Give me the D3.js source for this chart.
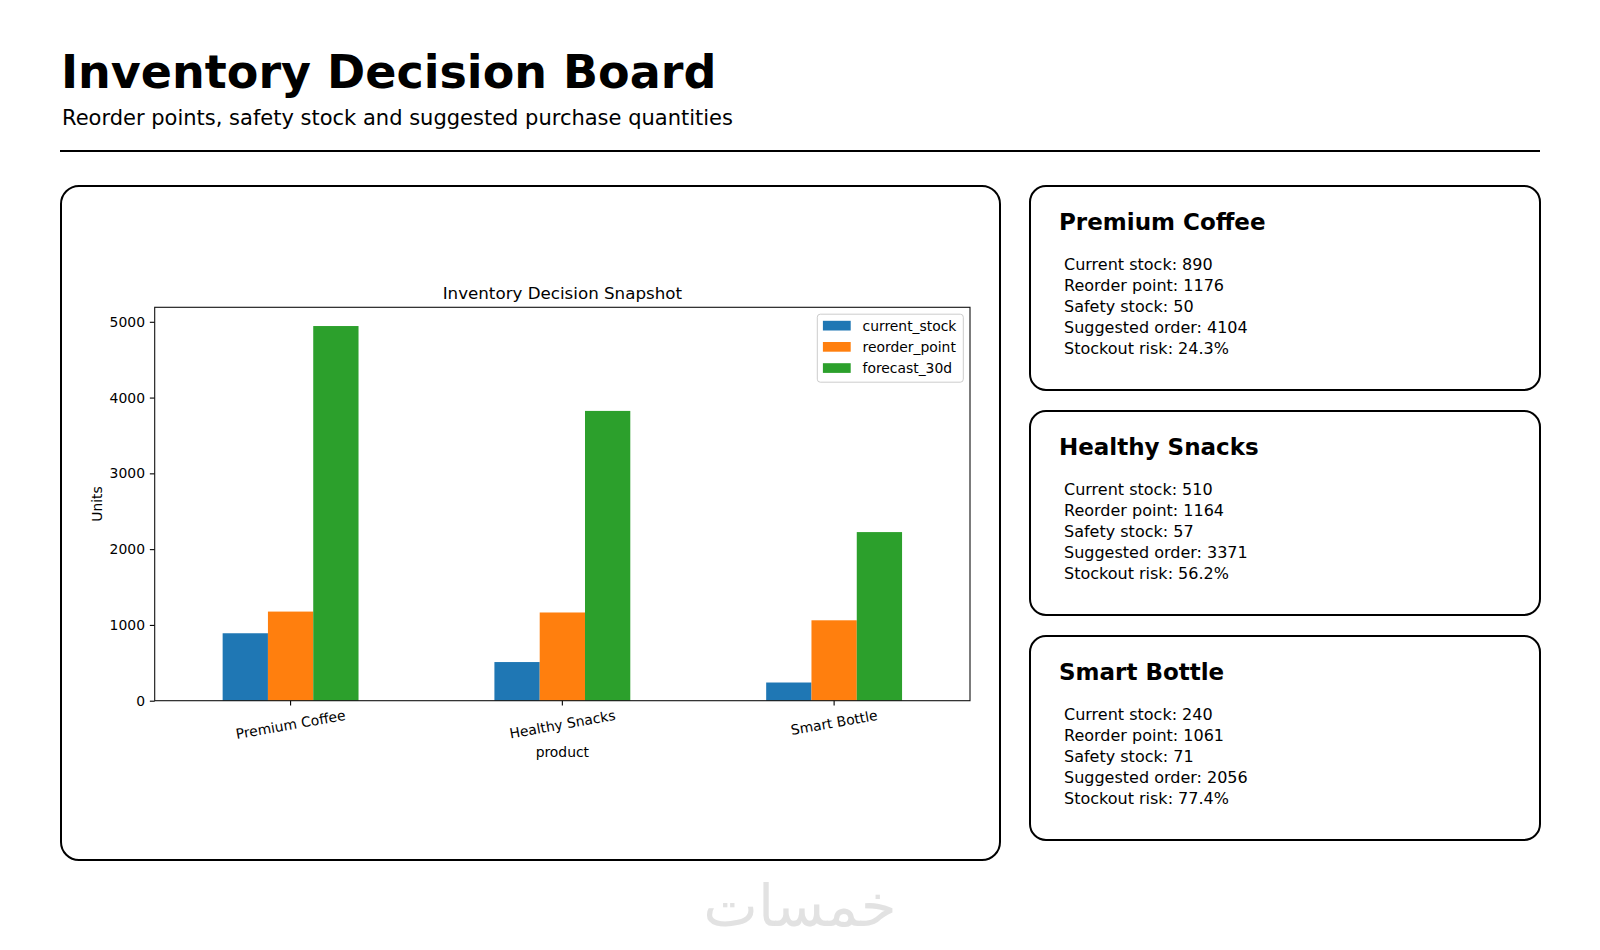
<!DOCTYPE html>
<html>
<head>
<meta charset="utf-8">
<script src="https://cdn.jsdelivr.net/npm/d3@7"></script>
<style>
  html, body { margin: 0; padding: 0; background: #fff; }
  svg { display: block; font-family: "DejaVu Sans", sans-serif; }
</style>
</head>
<body>
<svg id="chart" width="1600" height="950"></svg>
<script>
// ---------- data ----------
const products = ["Premium Coffee", "Healthy Snacks", "Smart Bottle"];
const seriesKeys = ["current_stock", "reorder_point", "forecast_30d"];
const currentStock = [890, 510, 240];
const reorderPoint = [1176, 1164, 1061];
const forecast30d = [4944, 3824, 2225];
const safetyStock = [50, 57, 71];
const suggestedOrder = [4104, 3371, 2056];
const stockoutRisk = [24.3, 56.2, 77.4];
const yTicks = [0, 1000, 2000, 3000, 4000, 5000];
const seriesColors = ["#1f77b4", "#ff7f0e", "#2ca02c"];

const pageTitle = "Inventory Decision Board";
const pageSubtitle = "Reorder points, safety stock and suggested purchase quantities";
const chartTitle = "Inventory Decision Snapshot";
const xLabel = "product";
const yLabel = "Units";
const watermark = "خمسات";

const seriesValues = [currentStock, reorderPoint, forecast30d];

// ---------- page ----------
const svg = d3.select("#chart");

svg.append("text").attr("x", 61).attr("y", 87.5)
  .attr("font-size", 46).attr("font-weight", "bold").attr("fill", "#000")
  .text(pageTitle);
svg.append("text").attr("x", 62).attr("y", 124.5)
  .attr("font-size", 21).attr("fill", "#000")
  .text(pageSubtitle);
svg.append("line").attr("x1", 60).attr("x2", 1540).attr("y1", 151).attr("y2", 151)
  .attr("stroke", "#000").attr("stroke-width", 2);

// chart panel
svg.append("rect").attr("x", 61).attr("y", 186).attr("width", 939).attr("height", 674)
  .attr("rx", 18).attr("ry", 18).attr("fill", "#fff").attr("stroke", "#000").attr("stroke-width", 2);

// ---------- plot ----------
const plot = { left: 154.7, right: 970, top: 307.3, bottom: 700.7 };
const fs = 13.9;
const ymax = d3.max(seriesValues.flat()) * 1.05;

const x0 = d3.scaleBand().domain(products).range([plot.left, plot.right])
  .paddingInner(0.5).paddingOuter(0.25);
const x1 = d3.scaleBand().domain(seriesKeys).range([0, x0.bandwidth()]).padding(0);
const y = d3.scaleLinear().domain([0, ymax]).range([plot.bottom, plot.top]);

const g = svg.append("g");

// bars
const groups = g.selectAll("g.grp").data(products).join("g")
  .attr("class", "grp")
  .attr("transform", d => `translate(${x0(d)},0)`);
groups.selectAll("rect").data((d, i) => seriesKeys.map((k, j) => ({ key: k, value: seriesValues[j][i], j })))
  .join("rect")
  .attr("x", d => x1(d.key))
  .attr("width", x1.bandwidth())
  .attr("y", d => y(d.value))
  .attr("height", d => y(0) - y(d.value))
  .attr("fill", d => seriesColors[d.j]);

// axes
const yAxis = d3.axisLeft(y).tickValues(yTicks).tickSize(4.86).tickPadding(4.86).tickFormat(d3.format("d"));
const ya = g.append("g").attr("transform", `translate(${plot.left},0)`).call(yAxis);
ya.select(".domain").remove();
ya.selectAll(".tick line").attr("stroke", "#000").attr("stroke-width", 1.1);
ya.selectAll(".tick text").attr("font-size", fs).attr("fill", "#000")
  .attr("font-family", "DejaVu Sans");

const xAxis = d3.axisBottom(x0).tickSize(4.86).tickPadding(0).tickFormat("");
const xa = g.append("g").attr("transform", `translate(0,${plot.bottom})`).call(xAxis);
xa.select(".domain").remove();
xa.selectAll(".tick line").attr("stroke", "#000").attr("stroke-width", 1.1);

// rotated x tick labels (10 degrees)
const rot = 10 * Math.PI / 180;
products.forEach(p => {
  const t = g.append("text").attr("font-size", fs).attr("fill", "#000")
    .attr("text-anchor", "middle").attr("dominant-baseline", "central").text(p);
  const w = t.node().getComputedTextLength();
  const h = fs * 1.17;
  const cy = plot.bottom + 6.2 + (w * Math.sin(rot) + h * Math.cos(rot)) / 2;
  const cx = x0(p) + x0.bandwidth() / 2;
  t.attr("transform", `translate(${cx},${cy}) rotate(-10)`);
});

// spines
g.append("rect").attr("x", plot.left).attr("y", plot.top)
  .attr("width", plot.right - plot.left).attr("height", plot.bottom - plot.top)
  .attr("fill", "none").attr("stroke", "#111").attr("stroke-width", 1.1);

// titles / labels
g.append("text").attr("x", (plot.left + plot.right) / 2).attr("y", 299.3)
  .attr("text-anchor", "middle").attr("font-size", 16.7).attr("fill", "#000").text(chartTitle);
g.append("text").attr("x", (plot.left + plot.right) / 2).attr("y", 756.5)
  .attr("text-anchor", "middle").attr("font-size", fs).attr("fill", "#000").text(xLabel);
g.append("text").attr("transform", `translate(97,${(plot.top + plot.bottom) / 2}) rotate(-90)`)
  .attr("text-anchor", "middle").attr("dominant-baseline", "central")
  .attr("font-size", fs).attr("fill", "#000").text(yLabel);

// legend
const lg = g.append("g");
lg.append("rect").attr("x", 817.3).attr("y", 314.2).attr("width", 146).attr("height", 68)
  .attr("rx", 3).attr("fill", "#fff").attr("fill-opacity", 0.8)
  .attr("stroke", "#cccccc").attr("stroke-width", 1);
seriesKeys.forEach((k, j) => {
  const cy = 325.7 + j * 21.2;
  lg.append("rect").attr("x", 822.9).attr("y", cy - 4.9).attr("width", 27.8).attr("height", 9.7)
    .attr("fill", seriesColors[j]);
  lg.append("text").attr("x", 862.5).attr("y", cy).attr("dominant-baseline", "central")
    .attr("font-size", fs).attr("fill", "#000").text(k);
});

// ---------- cards ----------
const cardX = 1030, cardW = 510, cardH = 204, cardGap = 21, cardTop = 186;
products.forEach((p, i) => {
  const top = cardTop + i * (cardH + cardGap);
  const c = svg.append("g");
  c.append("rect").attr("x", cardX).attr("y", top).attr("width", cardW).attr("height", cardH)
    .attr("rx", 16).attr("ry", 16).attr("fill", "#fff").attr("stroke", "#000").attr("stroke-width", 2);
  c.append("text").attr("x", cardX + 29).attr("y", top + 44)
    .attr("font-size", 23).attr("font-weight", "bold").attr("fill", "#000").text(p);
  const lines = [
    `Current stock: ${currentStock[i]}`,
    `Reorder point: ${reorderPoint[i]}`,
    `Safety stock: ${safetyStock[i]}`,
    `Suggested order: ${suggestedOrder[i]}`,
    `Stockout risk: ${stockoutRisk[i].toFixed(1)}%`
  ];
  lines.forEach((l, k) => {
    c.append("text").attr("x", cardX + 34).attr("y", top + 84 + k * 21)
      .attr("font-size", 16).attr("fill", "#000").text(l);
  });
});

// watermark
svg.append("text").attr("x", 800).attr("y", 926).attr("text-anchor", "middle")
  .attr("font-size", 58).attr("fill", "#e2e2e2").attr("font-family", "DejaVu Sans")
  .text(watermark);
</script>
</body>
</html>
